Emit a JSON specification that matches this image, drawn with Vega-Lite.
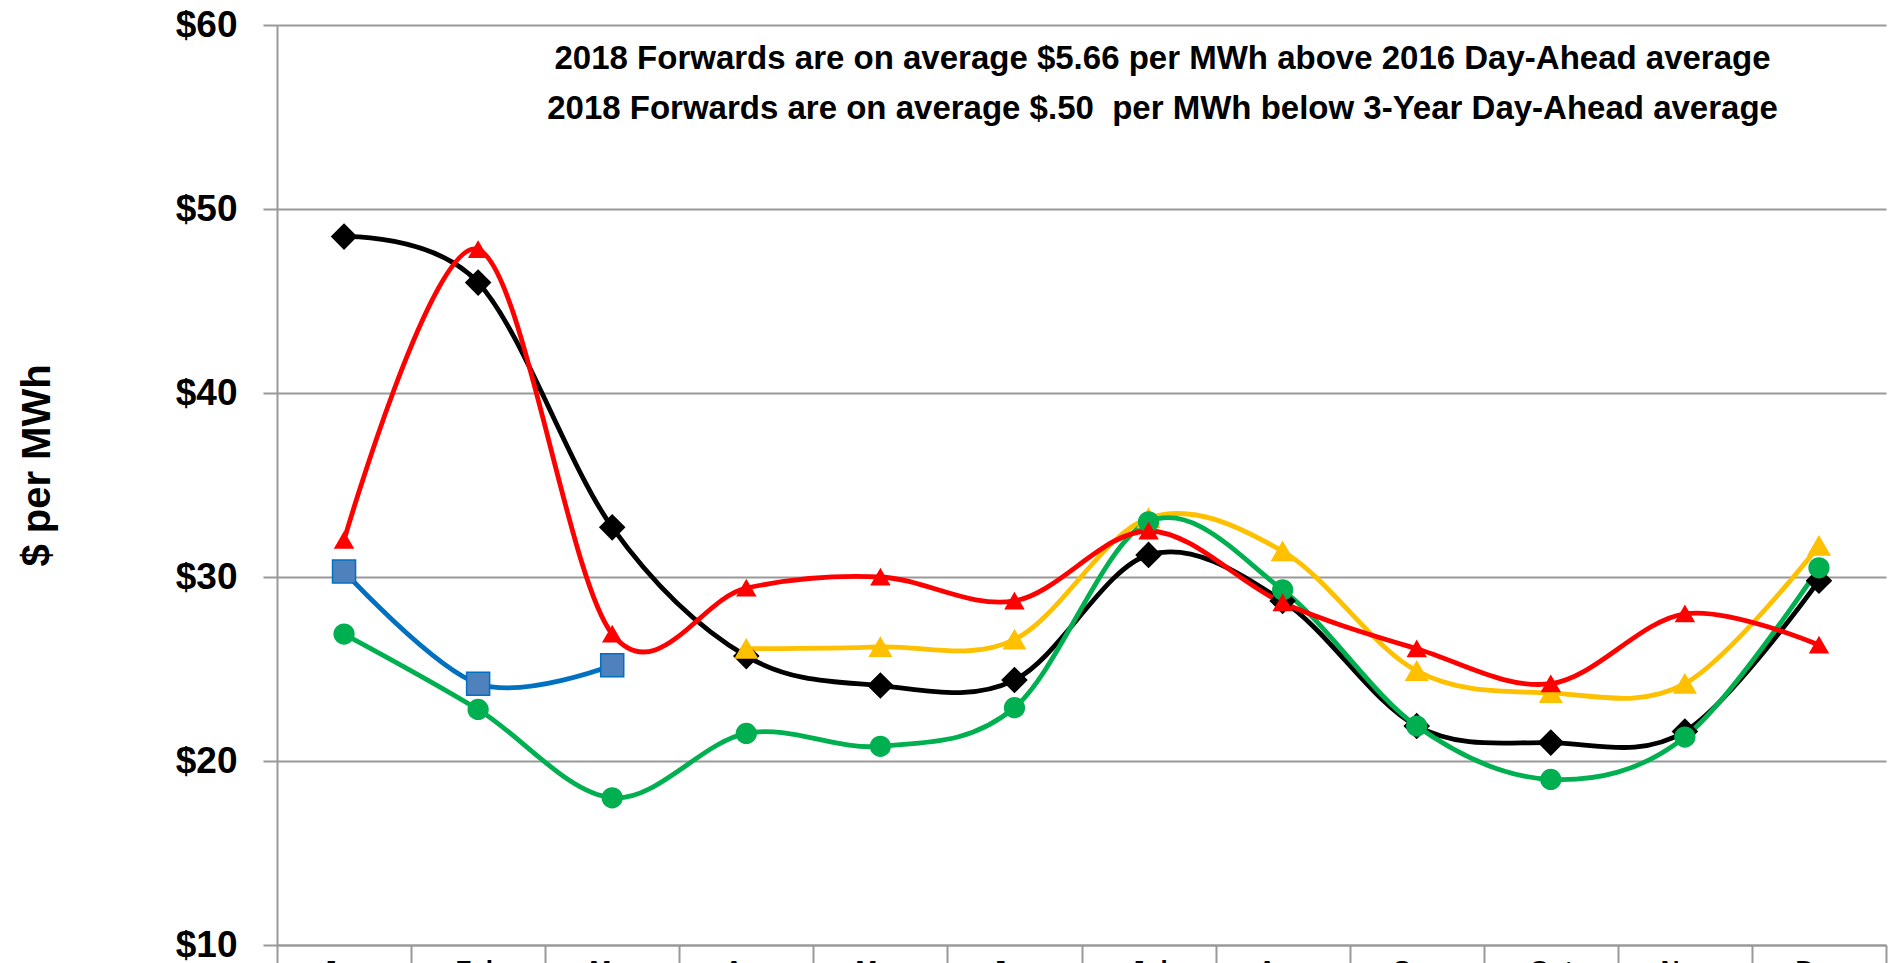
{
  "$schema": "https://vega.github.io/schema/vega-lite/v6.json",
  "autosize": "none",
  "width": 1609,
  "height": 920,
  "padding": {"left": 277, "top": 25, "right": 6, "bottom": 18},
  "background": "white",
  "config": {
    "view": {"stroke": null},
    "font": "Liberation Sans"
  },
  "datasets": {
    "prices": [
      {"month": "Jan", "series": "2014 Day-Ahead", "value": 48.5},
      {"month": "Feb", "series": "2014 Day-Ahead", "value": 46.0},
      {"month": "Mar", "series": "2014 Day-Ahead", "value": 32.7},
      {"month": "Apr", "series": "2014 Day-Ahead", "value": 25.7},
      {"month": "May", "series": "2014 Day-Ahead", "value": 24.1},
      {"month": "Jun", "series": "2014 Day-Ahead", "value": 24.4},
      {"month": "Jul", "series": "2014 Day-Ahead", "value": 31.2},
      {"month": "Aug", "series": "2014 Day-Ahead", "value": 28.7},
      {"month": "Sep", "series": "2014 Day-Ahead", "value": 21.9},
      {"month": "Oct", "series": "2014 Day-Ahead", "value": 21.0},
      {"month": "Nov", "series": "2014 Day-Ahead", "value": 21.6},
      {"month": "Dec", "series": "2014 Day-Ahead", "value": 29.8},
      {"month": "Jan", "series": "2017 Day-Ahead", "value": 30.3},
      {"month": "Feb", "series": "2017 Day-Ahead", "value": 24.2},
      {"month": "Mar", "series": "2017 Day-Ahead", "value": 25.2},
      {"month": "Apr", "series": "2018 Forwards", "value": 26.1},
      {"month": "May", "series": "2018 Forwards", "value": 26.2},
      {"month": "Jun", "series": "2018 Forwards", "value": 26.6},
      {"month": "Jul", "series": "2018 Forwards", "value": 33.2},
      {"month": "Aug", "series": "2018 Forwards", "value": 31.4},
      {"month": "Sep", "series": "2018 Forwards", "value": 24.9},
      {"month": "Oct", "series": "2018 Forwards", "value": 23.7},
      {"month": "Nov", "series": "2018 Forwards", "value": 24.2},
      {"month": "Dec", "series": "2018 Forwards", "value": 31.7},
      {"month": "Jan", "series": "2016 Day-Ahead", "value": 26.9},
      {"month": "Feb", "series": "2016 Day-Ahead", "value": 22.8},
      {"month": "Mar", "series": "2016 Day-Ahead", "value": 18.0},
      {"month": "Apr", "series": "2016 Day-Ahead", "value": 21.5},
      {"month": "May", "series": "2016 Day-Ahead", "value": 20.8},
      {"month": "Jun", "series": "2016 Day-Ahead", "value": 22.9},
      {"month": "Jul", "series": "2016 Day-Ahead", "value": 33.0},
      {"month": "Aug", "series": "2016 Day-Ahead", "value": 29.3},
      {"month": "Sep", "series": "2016 Day-Ahead", "value": 21.9},
      {"month": "Oct", "series": "2016 Day-Ahead", "value": 19.0},
      {"month": "Nov", "series": "2016 Day-Ahead", "value": 21.3},
      {"month": "Dec", "series": "2016 Day-Ahead", "value": 30.5},
      {"month": "Jan", "series": "2015 Day-Ahead", "value": 32.0},
      {"month": "Feb", "series": "2015 Day-Ahead", "value": 47.8},
      {"month": "Mar", "series": "2015 Day-Ahead", "value": 26.9},
      {"month": "Apr", "series": "2015 Day-Ahead", "value": 29.4},
      {"month": "May", "series": "2015 Day-Ahead", "value": 30.0},
      {"month": "Jun", "series": "2015 Day-Ahead", "value": 28.7},
      {"month": "Jul", "series": "2015 Day-Ahead", "value": 32.5},
      {"month": "Aug", "series": "2015 Day-Ahead", "value": 28.6},
      {"month": "Sep", "series": "2015 Day-Ahead", "value": 26.1},
      {"month": "Oct", "series": "2015 Day-Ahead", "value": 24.2},
      {"month": "Nov", "series": "2015 Day-Ahead", "value": 28.0},
      {"month": "Dec", "series": "2015 Day-Ahead", "value": 26.3}
    ],
    "notes": [
      {"month": "Jul", "value": 57.6, "label": "2018 Forwards are on average $5.66 per MWh above 2016 Day-Ahead average"},
      {"month": "Jul", "value": 54.87, "label": "2018 Forwards are on average $.50\u00a0 per MWh below 3-Year Day-Ahead average"}
    ]
  },
  "encoding": {
    "x": {
      "field": "month",
      "type": "ordinal",
      "sort": ["Jan", "Feb", "Mar", "Apr", "May", "Jun", "Jul", "Aug", "Sep", "Oct", "Nov", "Dec"],
      "scale": {"type": "band", "paddingInner": 0, "paddingOuter": 0, "domain": ["Jan", "Feb", "Mar", "Apr", "May", "Jun", "Jul", "Aug", "Sep", "Oct", "Nov", "Dec"]},
      "axis": {
        "title": null,
        "labelAngle": 0,
        "labelFont": "Liberation Sans",
        "labelFontWeight": "bold",
        "labelFontSize": 26,
        "labelColor": "black",
        "labelPadding": -10,
        "tickBand": "extent",
        "ticks": true,
        "tickSize": 22,
        "tickWidth": 2,
        "tickColor": "#999999",
        "domain": true,
        "domainColor": "#999999",
        "domainWidth": 2,
        "grid": false
      }
    },
    "y": {
      "field": "value",
      "type": "quantitative",
      "scale": {"domain": [10, 60], "nice": false, "zero": false},
      "axis": {
        "title": "$ per MWh",
        "titleFont": "Liberation Sans",
        "titleFontWeight": "bold",
        "titleFontSize": 40,
        "titleColor": "black",
        "titleX": -220,
        "titleY": 440,
        "values": [10, 20, 30, 40, 50, 60],
        "format": "$.0f",
        "labelFont": "Liberation Sans",
        "labelFontWeight": "bold",
        "labelFontSize": 37,
        "labelColor": "black",
        "labelPadding": 26,
        "tickSize": 14,
        "tickWidth": 2,
        "tickColor": "#999999",
        "domain": true,
        "domainColor": "#999999",
        "domainWidth": 2,
        "grid": true,
        "gridColor": "#999999",
        "gridWidth": 2
      }
    }
  },
  "layer": [
    {
      "data": {"name": "prices"},
      "mark": {"type": "line", "interpolate": "cardinal", "strokeWidth": 4.8},
      "encoding": {
        "color": {
          "field": "series",
          "type": "nominal",
          "scale": {
            "domain": ["2014 Day-Ahead", "2017 Day-Ahead", "2018 Forwards", "2016 Day-Ahead", "2015 Day-Ahead"],
            "range": ["#000000", "#0070C0", "#FFC000", "#00B050", "#FF0000"]
          },
          "legend": null
        },
        "order": {"value": 0}
      }
    },
    {
      "data": {"name": "prices"},
      "mark": {"type": "point", "filled": true, "opacity": 1},
      "encoding": {
        "shape": {
          "field": "series",
          "type": "nominal",
          "scale": {
            "domain": ["2014 Day-Ahead", "2017 Day-Ahead", "2018 Forwards", "2016 Day-Ahead", "2015 Day-Ahead"],
            "range": ["diamond", "square", "triangle-up", "circle", "triangle-up"]
          },
          "legend": null
        },
        "size": {
          "field": "series",
          "type": "nominal",
          "scale": {
            "domain": ["2014 Day-Ahead", "2017 Day-Ahead", "2018 Forwards", "2016 Day-Ahead", "2015 Day-Ahead"],
            "range": [600, 320, 540, 340, 540]
          },
          "legend": null
        },
        "fill": {
          "field": "series",
          "type": "nominal",
          "scale": {
            "domain": ["2014 Day-Ahead", "2017 Day-Ahead", "2018 Forwards", "2016 Day-Ahead", "2015 Day-Ahead"],
            "range": ["#000000", "#4F81BD", "#FFC000", "#00B050", "#FF0000"]
          },
          "legend": null
        },
        "stroke": {
          "field": "series",
          "type": "nominal",
          "scale": {
            "domain": ["2014 Day-Ahead", "2017 Day-Ahead", "2018 Forwards", "2016 Day-Ahead", "2015 Day-Ahead"],
            "range": ["#000000", "#0070C0", "#FFC000", "#00B050", "#FF0000"]
          },
          "legend": null
        },
        "strokeWidth": {"value": 1.5}
      }
    },
    {
      "data": {"name": "notes"},
      "mark": {"type": "text", "font": "Liberation Sans", "fontWeight": "bold", "fontSize": 33, "align": "center", "baseline": "alphabetic", "dx": 14, "color": "black"},
      "encoding": {
        "text": {"field": "label", "type": "nominal"}
      }
    }
  ]
}
